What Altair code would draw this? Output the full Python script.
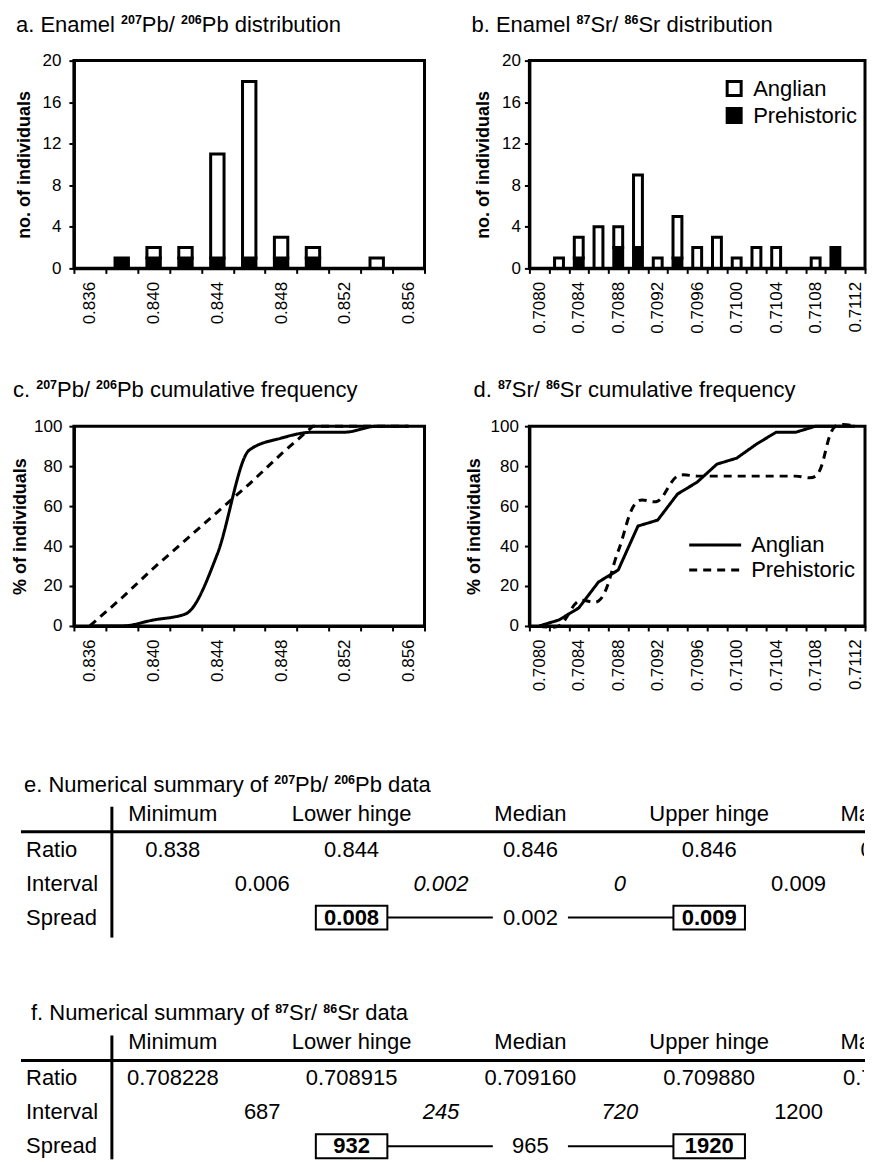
import altair as alt
import pandas as pd

FONT = "Liberation Sans, Arial, DejaVu Sans, sans-serif"

# ---------------- data ----------------
pb_cats = ["0.836", "0.838", "0.840", "0.842", "0.844", "0.846",
           "0.848", "0.850", "0.852", "0.854", "0.856"]
pb_labeled = ["0.836", "0.840", "0.844", "0.848", "0.852", "0.856"]
pb_anglian = [0, 0, 1, 1, 10, 17, 2, 1, 0, 1, 0]
pb_prehist = [0, 1, 1, 1, 1, 1, 1, 1, 0, 0, 0]

sr_cats = ["0.7080", "0.7082", "0.7084", "0.7086", "0.7088", "0.7090",
           "0.7092", "0.7094", "0.7096", "0.7098", "0.7100", "0.7102",
           "0.7104", "0.7106", "0.7108", "0.7110", "0.7112"]
sr_labeled = ["0.7080", "0.7084", "0.7088", "0.7092", "0.7096",
              "0.7100", "0.7104", "0.7108", "0.7112"]
sr_anglian = [0, 1, 2, 4, 2, 7, 1, 4, 2, 3, 1, 2, 2, 0, 1, 0, 0]
sr_prehist = [0, 0, 1, 0, 2, 2, 0, 1, 0, 0, 0, 0, 0, 0, 0, 2, 0]

pb_cum_anglian = [0, 0, 3, 6, 36, 88, 94, 97, 97, 100, 100]
pb_cum_prehist = [0, 14, 29, 43, 57, 71, 86, 100, 100, 100, 100]
sr_cum_anglian = [0, 3, 9, 22, 28, 50, 53, 66, 72, 81, 84, 91, 97, 97, 100, 100, 100]
sr_cum_prehist = [0, 0, 12.5, 12.5, 37.5, 62.5, 62.5, 75, 75, 75, 75, 75, 75, 75, 75, 100, 100]

series = ["Anglian", "Prehistoric"]

tbl_headers = ["Minimum", "Lower hinge", "Median", "Upper hinge", "Maximum"]
row_labels = ["Ratio", "Interval", "Spread"]
e_ratio = ["0.838", "0.844", "0.846", "0.846", "0.855"]
e_interval = ["0.006", "0.002", "0", "0.009"]
e_spread = ["0.008", "0.002", "0.009"]
f_ratio = ["0.708228", "0.708915", "0.709160", "0.709880", "0.711080"]
f_interval = ["687", "245", "720", "1200"]
f_spread = ["932", "965", "1920"]

# titles: (text, is_superscript) pieces
title_a = [("a. Enamel ", False), ("207", True), ("Pb/ ", False), ("206", True),
           ("Pb distribution", False)]
title_b = [("b. Enamel ", False), ("87", True), ("Sr/ ", False), ("86", True),
           ("Sr distribution", False)]
title_c = [("c. ", False), ("207", True), ("Pb/ ", False), ("206", True),
           ("Pb cumulative frequency", False)]
title_d = [("d. ", False), ("87", True), ("Sr/ ", False), ("86", True),
           ("Sr cumulative frequency", False)]
title_e = [("e. Numerical summary of ", False), ("207", True), ("Pb/ ", False),
           ("206", True), ("Pb data", False)]
title_f = [("f. Numerical summary of ", False), ("87", True), ("Sr/ ", False),
           ("86", True), ("Sr data", False)]

# ---------------- styles / layout ----------------
interval_italic = [False, True, True, False]
FRAME = alt.ViewBackground(stroke="black", strokeWidth=3, fill="white")
NOFRAME = alt.ViewBackground(strokeWidth=0, fill="transparent")
TITLE_FS = 22
SUP_FS = 12.5
COL2_X = 456  # x offset of the second grid column relative to the first
COL2_W = 336
DASHES = [[1, 0], [8, 6]]

# advance widths (per 1000 em) of Liberation Sans, used to place superscripts
ADV = {" ": 278, ".": 278, "/": 278, "a": 556, "b": 556, "c": 500, "d": 556,
       "e": 556, "f": 278, "g": 556, "h": 556, "i": 222, "l": 222, "m": 833,
       "n": 556, "o": 556, "q": 556, "r": 333, "s": 500, "t": 278, "u": 556,
       "v": 500, "y": 500, "E": 667, "N": 722, "P": 667, "S": 667}


def text_width(s, size):
    return sum(ADV.get(ch, 556) for ch in s) * size / 1000.0


def rich_title(parts, x0, y, size=TITLE_FS):
    layers = []
    x = x0
    for text, sup in parts:
        fs = SUP_FS if sup else size
        layers.append(alt.Chart(pd.DataFrame({"t": [text]})).mark_text(
            align="left", baseline="alphabetic" if sup else "middle", fontSize=fs,
            fontWeight="bold" if sup else "normal", font=FONT, color="black"
        ).encode(text="t:N", x=alt.value(round(x, 2)), y=alt.value(y - 1 if sup else y)))
        x += text_width(text, fs)
    return layers


def label_expr(labeled):
    lst = ",".join(f"'{v}'" for v in labeled)
    return f"indexof([{lst}], datum.value) >= 0 ? datum.label : ''"


def x_axis(cats, labeled):
    return alt.X(
        "cat:N", sort=cats,
        scale=alt.Scale(type="band", domain=cats, paddingInner=0, paddingOuter=0),
        axis=alt.Axis(title=None, labelAngle=270, labelExpr=label_expr(labeled),
                      tickBand="extent", labelPadding=8, labelOverlap=False,
                      tickSize=5),
    )


def bar_panel(cats, labeled, anglian, prehist, width, height, band_frac,
              title, tx, lab_pad, title_pad, legend):
    rows = []
    for c, a, p in zip(cats, anglian, prehist):
        if p > 0:
            rows.append({"cat": c, "series": "Prehistoric", "n": p, "ord": 0})
        if a > 0:
            rows.append({"cat": c, "series": "Anglian", "n": a, "ord": 1})
    df = pd.DataFrame(rows)
    if legend:
        leg = alt.Legend(title=None, orient="none", legendX=194, legendY=17,
                         symbolType="square", symbolSize=196,
                         symbolStrokeColor="black", symbolStrokeWidth=3,
                         labelFontSize=22, labelFont=FONT, labelColor="black",
                         labelOffset=8, rowPadding=1, padding=0)
    else:
        leg = None
    bars = alt.Chart(df).mark_bar(
        width=alt.RelativeBandSize(band_frac), stroke="black", strokeWidth=3
    ).encode(
        x=x_axis(cats, labeled),
        y=alt.Y("n:Q", stack="zero",
                scale=alt.Scale(domain=[0, 20], nice=False),
                axis=alt.Axis(values=[0, 4, 8, 12, 16, 20], title="no. of individuals",
                              labelPadding=lab_pad, titlePadding=title_pad)),
        fill=alt.Fill("series:N", scale=alt.Scale(domain=series, range=["white", "black"]),
                      legend=leg),
        order=alt.Order("ord:Q"),
    )
    return alt.layer(bars, *rich_title(title, tx, -36)).properties(
        width=width, height=height, view=FRAME)


def line_panel(cats, labeled, cum_a, cum_p, interp_a, interp_p, width, height,
               title, tx, lab_pad, title_pad, legend):
    df_a = pd.DataFrame({"cat": cats, "pct": cum_a, "series": "Anglian"})
    df_p = pd.DataFrame({"cat": cats, "pct": cum_p, "series": "Prehistoric"})
    x = x_axis(cats, labeled)
    y = alt.Y("pct:Q", scale=alt.Scale(domain=[0, 100], nice=False),
              axis=alt.Axis(values=[0, 20, 40, 60, 80, 100], title="% of individuals",
                            labelPadding=lab_pad, titlePadding=title_pad))
    dash = alt.StrokeDash("series:N", scale=alt.Scale(domain=series, range=DASHES),
                          legend=None)
    la = alt.Chart(df_a).mark_line(interpolate=interp_a, color="black", strokeWidth=3
                                   ).encode(x=x, y=y, strokeDash=dash)
    lp = alt.Chart(df_p).mark_line(interpolate=interp_p, color="black", strokeWidth=3
                                   ).encode(x=x, y=y, strokeDash=dash)
    layers = [la, lp, *rich_title(title, tx, -36)]
    if legend:
        for i, s in enumerate(series):
            sdf = pd.DataFrame({"series": [s]})
            ly = 119 + 25 * i
            layers.append(alt.Chart(sdf).mark_rule(color="black", strokeWidth=3).encode(
                x=alt.value(160), x2=alt.value(212), y=alt.value(ly), strokeDash=dash))
            layers.append(alt.Chart(sdf).mark_text(
                align="left", baseline="middle", fontSize=22, font=FONT, color="black"
            ).encode(x=alt.value(222), y=alt.value(ly), text="series:N"))
    return alt.layer(*layers).properties(width=width, height=height, view=FRAME)


# table layout constants (pixels relative to the tables chart origin)
T_W, T_H = 351, 376
R_TITLE, R_HEAD, R_HLINE, R_RATIO, R_INT, R_SPREAD = 1, 30, 48, 66, 100, 134
V_TOP, V_BOT = 23, 154
F_OFF = 229
HLINE_END = COL2_X + COL2_W
COLX = alt.Scale(domain=[0, 4], range=[99, 815], zero=False, nice=False)
COLX2 = alt.Scale(domain=[0, 4], range=[99 - COL2_X, 815 - COL2_X], zero=False, nice=False)
TFS = 22
ROWLAB_COL = -0.821
BOX_H = 12


def txt(df, y, scale=COLX, clip=False, **kw):
    return alt.Chart(df).mark_text(baseline="middle", fontSize=TFS, font=FONT,
                                   color="black", clip=clip, **kw).encode(
        x=alt.X("col:Q", scale=scale, axis=None), y=alt.value(y), text="text:N")


def table_block(off, title, ratio, interval, spread, title_x):
    hdr = pd.DataFrame({"col": list(range(4)), "text": tbl_headers[:4]})
    rat = pd.DataFrame({"col": list(range(4)), "text": ratio[:4]})
    intv = pd.DataFrame({"col": [i + 0.5 for i in range(4)], "text": interval,
                         "it": interval_italic})
    spr = pd.DataFrame({"col": [1, 2, 3], "text": spread, "box": [True, False, True]})
    lab = pd.DataFrame({"text": row_labels, "col": ROWLAB_COL})

    return [
        *rich_title(title, title_x, off + R_TITLE, size=TFS),
        txt(hdr, off + R_HEAD),
        txt(rat, off + R_RATIO),
        txt(intv[~intv["it"]], off + R_INT),
        txt(intv[intv["it"]], off + R_INT, fontStyle="italic"),
        txt(lab.iloc[[0]], off + R_RATIO, align="left"),
        txt(lab.iloc[[1]], off + R_INT, align="left"),
        txt(lab.iloc[[2]], off + R_SPREAD, align="left"),
        alt.Chart(pd.DataFrame({"a": [1.2, 2.21], "b": [1.79, 2.8]})).mark_rule(
            color="black", strokeWidth=2).encode(
            x=alt.X("a:Q", scale=COLX, axis=None), x2="b:Q", y=alt.value(off + R_SPREAD)),
        alt.Chart(spr[spr["box"]]).transform_calculate(
            x1="datum.col - 0.2", x2="datum.col + 0.2").mark_rect(
            fill="white", stroke="black", strokeWidth=2).encode(
            x=alt.X("x1:Q", scale=COLX, axis=None), x2="x2:Q",
            y=alt.value(off + R_SPREAD - BOX_H), y2=alt.value(off + R_SPREAD + BOX_H)),
        txt(spr[spr["box"]], off + R_SPREAD, fontWeight="bold"),
        txt(spr[~spr["box"]], off + R_SPREAD),
        alt.Chart(pd.DataFrame({"k": [0]})).mark_rule(color="black", strokeWidth=3).encode(
            x=alt.value(-53), x2=alt.value(HLINE_END), y=alt.value(off + R_HLINE)),
        alt.Chart(pd.DataFrame({"k": [0]})).mark_rule(color="black", strokeWidth=3).encode(
            x=alt.value(38), y=alt.value(off + V_TOP), y2=alt.value(min(off + V_BOT, T_H))),
    ]


def max_block(off, ratio):
    hdr = pd.DataFrame({"col": [4], "text": [tbl_headers[4]]})
    rat = pd.DataFrame({"col": [4], "text": [ratio[4]]})
    return [txt(hdr, off + R_HEAD, scale=COLX2, clip=True),
            txt(rat, off + R_RATIO, scale=COLX2, clip=True)]


pa = bar_panel(pb_cats, pb_labeled, pb_anglian, pb_prehist, 351, 208, 0.42,
               title_a, -58, 8, 9, False)
pb = bar_panel(sr_cats, sr_labeled, sr_anglian, sr_prehist, COL2_W, 208, 0.45,
               title_b, -58, 4, 9, True)
pc = line_panel(pb_cats, pb_labeled, pb_cum_anglian, pb_cum_prehist, "monotone", "linear",
                351, 200, title_c, -61, 7, 4, False)
pd_ = line_panel(sr_cats, sr_labeled, sr_cum_anglian, sr_cum_prehist, "linear", "catmull-rom",
                 COL2_W, 200, title_d, -56, 6, 7, True)
tables = alt.layer(
    *table_block(0, title_e, e_ratio, e_interval, e_spread, -50),
    *table_block(F_OFF, title_f, f_ratio, f_interval, f_spread, -43),
).properties(width=T_W, height=T_H, view=NOFRAME)
maxcol = alt.layer(
    *max_block(0, e_ratio), *max_block(F_OFF, f_ratio),
).properties(width=COL2_W - 1, height=T_H, view=NOFRAME)

chart = alt.concat(
    pa, pb, pc, pd_, tables, maxcol, columns=2,
    spacing={"row": 158, "column": COL2_X - 351}, bounds="flush", align="each",
).resolve_scale(
    x="independent", y="independent", fill="independent", strokeDash="independent"
).properties(
    padding={"left": 2, "top": 3, "right": 0, "bottom": 0},
    background="white",
).configure(font=FONT).configure_axis(
    labelFont=FONT, labelFontSize=17, labelColor="black",
    titleFont=FONT, titleFontSize=18, titleFontWeight="bold", titleColor="black",
    domainColor="black", domainWidth=3, tickColor="black", tickWidth=2, tickSize=5,
    grid=False,
).configure_view(stroke="black", strokeWidth=3)

chart.save("out.html", embed_options={"renderer": "svg", "actions": False})
